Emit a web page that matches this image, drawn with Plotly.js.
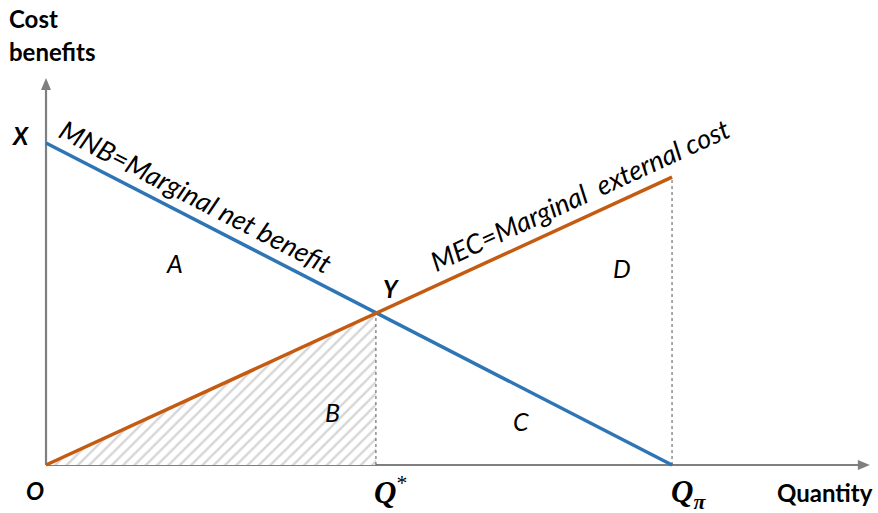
<!DOCTYPE html>
<html>
<head>
<meta charset="utf-8">
<script src="https://cdn.plot.ly/plotly-3.0.1.min.js"></script>
<style>html,body{margin:0;padding:0;background:#fff;}#chart{width:878px;height:513px;}</style>
</head>
<body>
<div id="chart"></div>
<script>
// Data (quantity on x, cost/benefit on y)
const mnbQ = [0, 10];        // Marginal net benefit: X at Q=0, zero at Qπ
const mnbV = [10, 0];
const mecQ = [0, 10];        // Marginal external cost
const mecV = [0, 8.94];
const eqQ = [5.27];          // Q*
const eqV = [4.72];          // Y
const qPi = [10];
const areaLabels = ['A', 'B', 'C', 'D'];
const areaQ = [2.06, 4.58, 7.59, 9.20];
const areaV = [6.27, 1.65, 1.37, 6.12];
const axisEnd = [13.16, 12.02];   // arrow tips of quantity and cost axes

const blue = '#2E75B6', orange = '#C55A11', axisGray = '#7f7f7f';

const traces = [
  { // hatched area B
    x: [0, eqQ[0], eqQ[0], 0], y: [0, eqV[0], 0, 0],
    mode: 'lines', fill: 'toself', line: {width: 0, color: 'rgba(0,0,0,0)'},
    fillcolor: 'white',
    fillpattern: {shape: '/', fgcolor: '#d6d6d6', bgcolor: 'white', size: 8, solidity: 0.3},
    hoverinfo: 'skip'
  },
  { x: [eqQ[0], eqQ[0]], y: [0, eqV[0]], mode: 'lines', line: {color: '#555', width: 1, dash: '3px,3px'} },
  { x: [qPi[0], qPi[0]], y: [0, mecV[1]], mode: 'lines', line: {color: '#555', width: 1, dash: '3px,3px'} },
  { x: mnbQ, y: mnbV, mode: 'lines', line: {color: blue, width: 3.5} },
  { x: mecQ, y: mecV, mode: 'lines', line: {color: orange, width: 3.5} }
];

// axis lines and arrowheads (data coords; arrowhead ~12px long, ~10px wide)
const ax = axisEnd[0], ay = axisEnd[1];
const hx = 12 / 62.6, hy = 12 / 32.2, wx = 5 / 62.6, wy = 5 / 32.2;
const shapes = [
  {type: 'line', xref: 'x', yref: 'y', x0: 0, y0: 0, x1: ax - hx * 0.8, y1: 0, line: {color: axisGray, width: 2.2}, layer: 'below'},
  {type: 'line', xref: 'x', yref: 'y', x0: 0, y0: 0, x1: 0, y1: ay - hy * 0.8, line: {color: axisGray, width: 2.2}, layer: 'below'},
  {type: 'path', xref: 'x', yref: 'y', path: `M ${ax} 0 L ${ax - hx} ${wy} L ${ax - hx} ${-wy} Z`, fillcolor: axisGray, line: {width: 0}},
  {type: 'path', xref: 'x', yref: 'y', path: `M 0 ${ay} L ${-wx} ${ay - hy} L ${wx} ${ay - hy} Z`, fillcolor: axisGray, line: {width: 0}}
];

const bodyFont = 'Lato, "Open Sans", sans-serif';
const mathFont = '"Liberation Serif", "DejaVu Serif", serif';
const ann = [];
// area labels
areaLabels.forEach((t, i) => ann.push({x: areaQ[i], y: areaV[i], text: '<i>' + t + '</i>', showarrow: false,
  font: {family: bodyFont, size: 25, color: '#000'}}));
// point labels
ann.push({x: -0.42, y: 10.22, text: '<b><i>X</i></b>', showarrow: false, font: {family: bodyFont, size: 24, color: '#000'}});
ann.push({x: -0.18, y: -0.78, text: '<b><i>O</i></b>', showarrow: false, font: {family: bodyFont, size: 24, color: '#000'}});
ann.push({x: 5.51, y: 5.47, text: '<b><i>Y</i></b>', showarrow: false, font: {family: bodyFont, size: 24, color: '#000'}});
ann.push({x: 5.50, y: -0.80, text: '<b><i>Q</i></b><sup>*</sup>', showarrow: false, font: {family: mathFont, size: 31, color: '#000'}});
ann.push({x: 10.26, y: -0.90, text: '<b><i>Q</i></b><sub><b><i>π</i></b></sub>', showarrow: false, font: {family: mathFont, size: 31, color: '#000'}});
ann.push({x: 12.44, y: -0.84, text: '<b>Quantity</b>', showarrow: false, font: {family: bodyFont, size: 24, color: '#000'}});
ann.push({x: -0.62, y: 13.88, xanchor: 'left', text: '<b>Cost</b>', showarrow: false, font: {family: bodyFont, size: 24, color: '#000'}});
ann.push({x: -0.62, y: 12.83, xanchor: 'left', text: '<b>benefits</b>', showarrow: false, font: {family: bodyFont, size: 24, color: '#000'}});
// line labels
ann.push({x: 2.40, y: 8.33, text: '<i>MNB=Marginal net benefit</i>', showarrow: false, textangle: 27.2,
  font: {family: bodyFont, size: 27, color: '#000'}});
ann.push({x: 8.53, y: 8.40, text: '<i>MEC=Marginal\u00a0 external cost</i>', showarrow: false, textangle: -24.7,
  font: {family: bodyFont, size: 27, color: '#000'}});

const layout = {
  width: 878, height: 513,
  margin: {l: 0, r: 0, t: 0, b: 0},
  paper_bgcolor: '#fff', plot_bgcolor: '#fff',
  showlegend: false,
  xaxis: {range: [-0.735, 13.29], visible: false, fixedrange: true},
  yaxis: {range: [-1.49, 14.44], visible: false, fixedrange: true},
  shapes: shapes,
  annotations: ann
};

Plotly.newPlot('chart', traces, layout, {displayModeBar: false, staticPlot: true});
</script>
</body>
</html>
